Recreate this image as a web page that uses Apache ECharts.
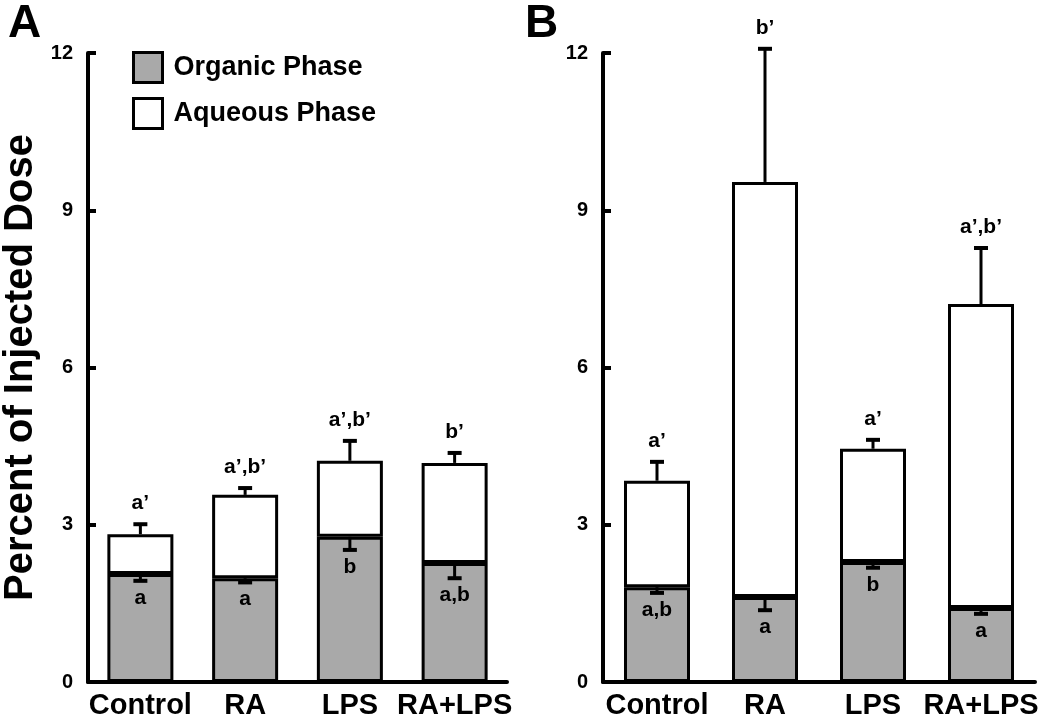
<!DOCTYPE html>
<html>
<head>
<meta charset="utf-8">
<script src="https://cdn.jsdelivr.net/npm/echarts@6/dist/echarts.min.js"></script>
<style>
html,body{margin:0;padding:0;background:#fff;}
#chart{width:1050px;height:722px;}
</style>
</head>
<body>
<div id="chart"></div>
<script>
// ---- data ----
const categories = ['Control', 'RA', 'LPS', 'RA+LPS'];
const yTicks = [0, 3, 6, 9, 12];

// Panel A
const organicA = [2.06, 1.98, 2.77, 2.27];
const organicErrA = [0.13, 0.08, 0.25, 0.29];
const aqueousA = [0.76, 1.59, 1.45, 1.91];
const totalErrA = [0.19, 0.13, 0.38, 0.19];
const upperLabelsA = ['a’', 'a’,b’', 'a’,b’', 'b’'];
const lowerLabelsA = ['a', 'a', 'b', 'a,b'];

// Panel B
const organicB = [1.81, 1.62, 2.29, 1.41];
const organicErrB = [0.11, 0.25, 0.11, 0.11];
const aqueousB = [2.03, 7.92, 2.16, 5.80];
const totalErrB = [0.36, 2.54, 0.17, 1.07];
const upperLabelsB = ['a’', 'b’', 'a’', 'a’,b’'];
const lowerLabelsB = ['a,b', 'a', 'b', 'a'];

const FONT = "'Liberation Sans', Arial, Helvetica, sans-serif";
const GRAY = '#a9a9a9';

function errSeries(gi, tops, errs, dir, labels, dy) {
  const data = tops.map((t, i) => [i, t, t + dir * errs[i]]);
  return {
    type: 'custom',
    xAxisIndex: gi, yAxisIndex: gi,
    clip: false, z: 10, silent: true,
    data: data,
    renderItem: function (params, api) {
      const i = params.dataIndex;
      const base = api.coord([api.value(0), api.value(1)]);
      const cap = api.coord([api.value(0), api.value(2)]);
      return {
        type: 'group',
        children: [
          { type: 'line', shape: { x1: base[0], y1: base[1], x2: cap[0], y2: cap[1] }, style: { stroke: '#000', lineWidth: 3 } },
          { type: 'line', shape: { x1: cap[0] - 7, y1: cap[1], x2: cap[0] + 7, y2: cap[1] }, style: { stroke: '#000', lineWidth: 4 } },
          { type: 'text', x: cap[0], y: cap[1] + dy, style: { text: labels[i], align: 'center', verticalAlign: 'middle', font: 'bold 21px ' + FONT, fill: '#000' } }
        ]
      };
    }
  };
}

function barSeries(gi, name, vals, color) {
  return {
    type: 'bar', name: name, stack: 's' + gi,
    xAxisIndex: gi, yAxisIndex: gi,
    barWidth: 66,
    data: vals,
    itemStyle: { color: color, borderColor: '#000', borderWidth: 3 },
    emphasis: { disabled: true }
  };
}

function sum(a, b) { return a.map((v, i) => v + b[i]); }

function yAxis(gi, showName) {
  return {
    type: 'value', gridIndex: gi, min: yTicks[0], max: yTicks[yTicks.length - 1], interval: 3,
    name: showName ? 'Percent of Injected Dose' : '',
    nameLocation: 'middle', nameGap: 47,
    nameTextStyle: { fontSize: 40, fontWeight: 'bold', fontFamily: FONT, color: '#000' },
    axisLine: { show: true, lineStyle: { color: '#000', width: 4 } },
    axisTick: { show: true, inside: true, length: 8, lineStyle: { color: '#000', width: 4 } },
    axisLabel: { fontSize: 20, fontWeight: 'bold', fontFamily: FONT, color: '#000', margin: 15 },
    splitLine: { show: false }
  };
}

function xAxis(gi) {
  return {
    type: 'category', gridIndex: gi, data: categories,
    axisLine: { show: true, lineStyle: { color: '#000', width: 4 } },
    axisTick: { show: false },
    axisLabel: { fontSize: 29, fontWeight: 'bold', fontFamily: FONT, color: '#000', margin: 9, interval: 0 }
  };
}

const option = {
  backgroundColor: '#fff',
  animation: false,
  title: [
    { text: 'A', left: 3, top: -4, textStyle: { fontSize: 46, fontWeight: 'bold', fontFamily: FONT, color: '#000' } },
    { text: 'B', left: 520, top: -4, textStyle: { fontSize: 46, fontWeight: 'bold', fontFamily: FONT, color: '#000' } }
  ],
  legend: {
    left: 127, top: 46, orient: 'vertical',
    icon: 'rect',
    itemWidth: 29, itemHeight: 30, itemGap: 13,
    data: ['Organic Phase', 'Aqueous Phase'],
    textStyle: { fontSize: 27, fontWeight: 'bold', fontFamily: FONT, color: '#000', padding: [0, 0, 0, 6] },
    itemStyle: { borderColor: '#000', borderWidth: 3 },
    selectedMode: false
  },
  grid: [
    { left: 87, right: 543, top: 53, bottom: 40 },
    { left: 603, right: 15, top: 53, bottom: 40 }
  ],
  xAxis: [xAxis(0), xAxis(1)],
  yAxis: [yAxis(0, true), yAxis(1, false)],
  series: [
    barSeries(0, 'Organic Phase', organicA, GRAY),
    barSeries(0, 'Aqueous Phase', aqueousA, '#ffffff'),
    barSeries(1, 'Organic Phase', organicB, GRAY),
    barSeries(1, 'Aqueous Phase', aqueousB, '#ffffff'),
    errSeries(0, organicA, organicErrA, -1, lowerLabelsA, 17),
    errSeries(0, sum(organicA, aqueousA), totalErrA, 1, upperLabelsA, -21),
    errSeries(1, organicB, organicErrB, -1, lowerLabelsB, 17),
    errSeries(1, sum(organicB, aqueousB), totalErrB, 1, upperLabelsB, -21)
  ]
};

const chart = echarts.init(document.getElementById('chart'), null, { renderer: 'canvas' });
chart.setOption(option);
</script>
</body>
</html>
